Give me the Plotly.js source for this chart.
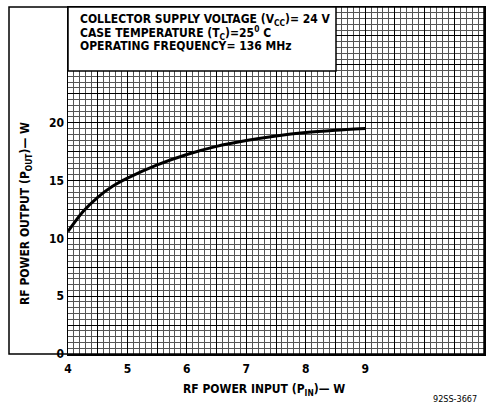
<!DOCTYPE html>
<html>
<head>
<meta charset="utf-8">
<script src="https://cdn.plot.ly/plotly-3.0.1.min.js"></script>
<style>html,body{margin:0;padding:0;background:#fff;}#chart{width:497px;height:410px;}</style>
</head>
<body>
<div id="chart"></div>
<script>
// Data
const pin  = [4, 4.25, 4.5, 4.75, 5, 5.5, 6, 6.5, 7, 7.5, 8, 8.5, 9];
const pout = [10.6, 12.3, 13.55, 14.5, 15.2, 16.35, 17.25, 17.95, 18.45, 18.85, 19.15, 19.35, 19.5];

const xTickVals = [4, 4.5, 5, 5.5, 6, 6.5, 7, 7.5, 8, 8.5, 9, 9.5, 10, 10.5, 11];
const xTickText = ['4', '', '5', '', '6', '', '7', '', '8', '', '9', '', '', '', ''];
const yTickVals = [0, 2.5, 5, 7.5, 10, 12.5, 15, 17.5, 20, 22.5, 25, 27.5, 30];
const yTickText = ['0', '', '5', '', '10', '', '15', '', '20', '', '', '', ''];

const boxLines = [
  'COLLECTOR SUPPLY VOLTAGE (V<sub>CC</sub>)= 24 V',
  'CASE TEMPERATURE (T<sub>C</sub>)=25<sup>0</sup> C',
  'OPERATING FREQUENCY= 136 MHz'
];
const xTitle = 'RF POWER INPUT (P<sub>IN</sub>)— W';
const yTitle = 'RF POWER OUTPUT (P<sub>OUT</sub>)— W';
const note = '92SS-3667';

const FF = 'DejaVu Sans Condensed, Liberation Sans Narrow, sans-serif';
const bold = {family: FF, size: 12, color: '#000', weight: 'bold'};

const trace = {
  x: pin, y: pout, type: 'scatter', mode: 'lines',
  line: {color: '#000', width: 3, shape: 'spline', smoothing: 0.8},
  hoverinfo: 'skip'
};

const boxY = [0.963, 0.925, 0.888];
const annotations = boxLines.map((t, i) => ({
  text: t, xref: 'paper', yref: 'paper', x: 0.024, y: boxY[i],
  xanchor: 'left', yanchor: 'middle', showarrow: false, font: bold
}));
annotations.push({text: xTitle, xref: 'paper', yref: 'paper', x: (264 - 68) / 416, y: -(390 - 354) / 347,
  xanchor: 'center', yanchor: 'middle', showarrow: false, font: bold});
annotations.push({text: yTitle, xref: 'paper', yref: 'paper', x: (26 - 68) / 416, y: (354 - 214) / 347,
  xanchor: 'center', yanchor: 'middle', textangle: -90, showarrow: false, font: bold});
annotations.push({text: note, xref: 'paper', yref: 'paper', x: (479 - 68) / 416, y: -(399 - 354) / 347,
  xanchor: 'right', yanchor: 'middle', showarrow: false,
  font: {family: FF, size: 9, color: '#000'}});

const layout = {
  width: 497, height: 410,
  margin: {l: 68, r: 13, t: 7, b: 56},
  paper_bgcolor: '#fff', plot_bgcolor: '#fff',
  showlegend: false,
  xaxis: {
    range: [4, 11], tickmode: 'array', tickvals: xTickVals, ticktext: xTickText,
    showgrid: true, gridcolor: '#000', gridwidth: 1, zeroline: false,
    minor: {dtick: 0.1, showgrid: true, gridcolor: '#555', gridwidth: 1},
    showline: true, linecolor: '#000', linewidth: 1.5, mirror: true,
    ticks: '', tickfont: bold, ticklabelstandoff: 3, fixedrange: true
  },
  yaxis: {
    range: [0, 30], tickmode: 'array', tickvals: yTickVals, ticktext: yTickText,
    showgrid: true, gridcolor: '#000', gridwidth: 1, zeroline: false,
    minor: {dtick: 0.5, showgrid: true, gridcolor: '#555', gridwidth: 1},
    showline: true, linecolor: '#000', linewidth: 1.5, mirror: true,
    ticks: '', tickfont: bold, ticklabelstandoff: 0, fixedrange: true
  },
  shapes: [
    {type: 'rect', xref: 'paper', yref: 'paper', x0: (9 - 68) / 416, x1: 1, y0: 0, y1: 1,
     line: {color: '#000', width: 1.5}, fillcolor: 'rgba(0,0,0,0)', layer: 'above'},
    {type: 'rect', xref: 'paper', yref: 'paper', x0: 0, x1: (336 - 68) / 416, y0: (354 - 71) / 347, y1: 1,
     line: {color: '#000', width: 1.5}, fillcolor: '#fff', layer: 'above'}
  ],
  annotations: annotations
};

Plotly.newPlot('chart', [trace], layout, {displayModeBar: false, staticPlot: true});
</script>
</body>
</html>
